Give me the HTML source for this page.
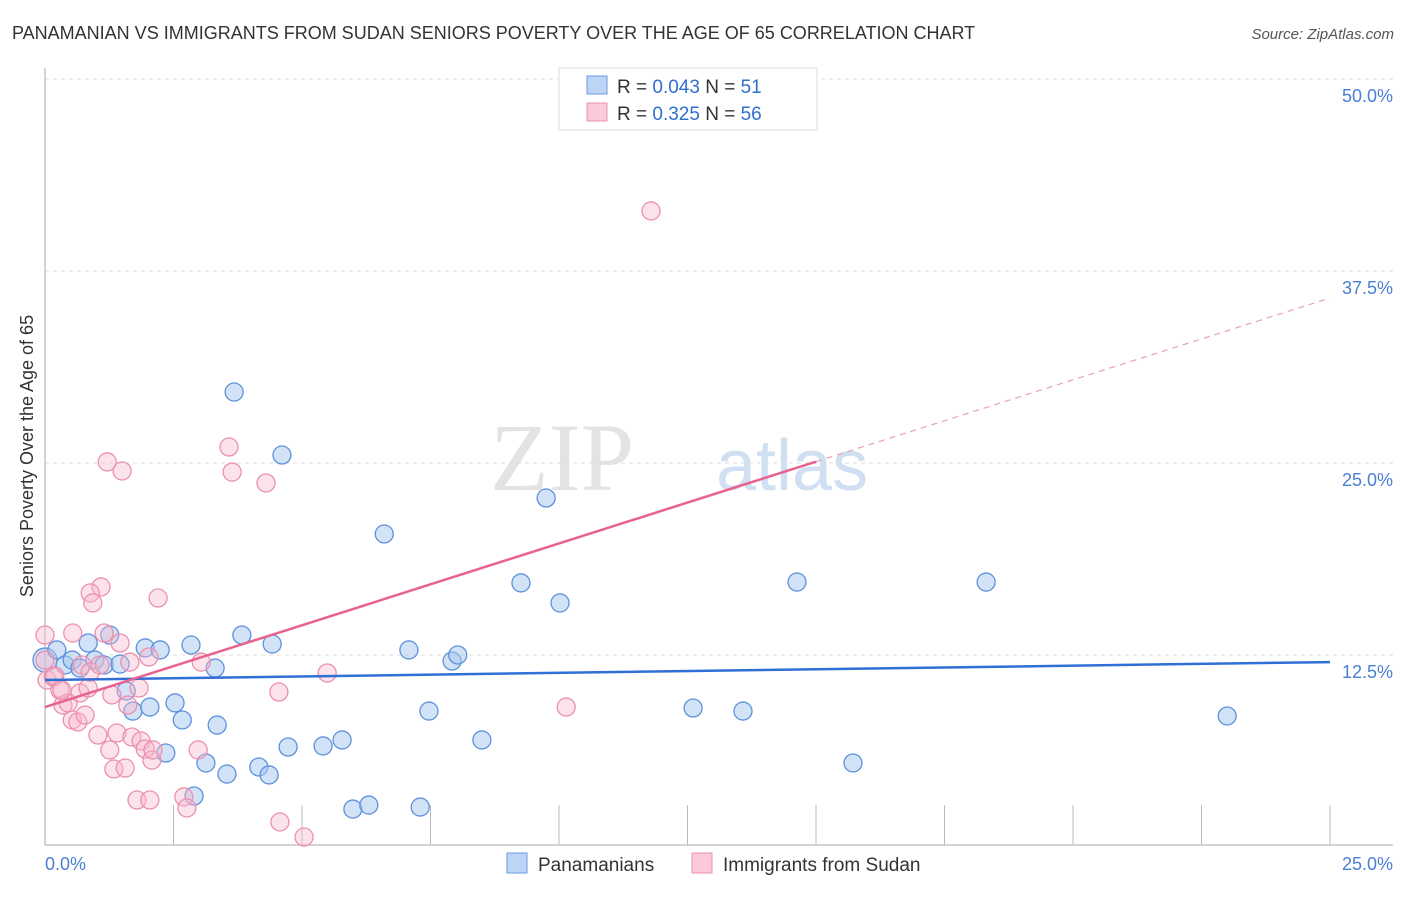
<!DOCTYPE html>
<html><head><meta charset="utf-8"><style>
body{margin:0;background:#fff;font-family:"Liberation Sans",sans-serif;}
</style></head><body>
<svg width="1406" height="892" viewBox="0 0 1406 892" xmlns="http://www.w3.org/2000/svg">
<text x="12" y="39" font-size="18" fill="#333">PANAMANIAN VS IMMIGRANTS FROM SUDAN SENIORS POVERTY OVER THE AGE OF 65 CORRELATION CHART</text>
<text x="1394" y="39" font-size="15" fill="#555" text-anchor="end" font-style="italic">Source: ZipAtlas.com</text>
<text x="634" y="490" font-size="96" fill="#e3e3e3" text-anchor="end" font-family="Liberation Serif">ZIP</text>
<text x="716" y="490" font-size="72" fill="#d0dff2">atlas</text>
<g id="grid"></g>
<g id="axes"></g>
<text transform="translate(33,456) rotate(-90)" font-size="18" fill="#333" text-anchor="middle">Seniors Poverty Over the Age of 65</text>
<text x="45" y="870" font-size="18" fill="#4a7fd4">0.0%</text>
<text x="1393" y="870" font-size="18" fill="#4a7fd4" text-anchor="end">25.0%</text>
<g id="pts"></g>
<g id="lines"></g>
<g>
<rect x="559" y="68" width="258" height="62" fill="#fff" stroke="#ddd"/>
<rect x="587" y="76" width="20" height="18" fill="#bdd4f5" stroke="#6b9be0"/>
<rect x="587" y="103" width="20" height="18" fill="#fbc9d8" stroke="#ec93b0"/>
<text x="617" y="93" font-size="19" fill="#333">R = <tspan fill="#2f6fd0">0.043</tspan>   N = <tspan fill="#2f6fd0">51</tspan></text>
<text x="617" y="120" font-size="19" fill="#333">R = <tspan fill="#2f6fd0"> 0.325</tspan>   N = <tspan fill="#2f6fd0">56</tspan></text>
</g>
<g>
<rect x="507" y="853" width="20" height="20" fill="#bdd4f5" stroke="#6b9be0"/>
<text x="538" y="871" font-size="19" fill="#333">Panamanians</text>
<rect x="692" y="853" width="20" height="20" fill="#fbc9d8" stroke="#ec93b0"/>
<text x="723" y="871" font-size="19" fill="#333">Immigrants from Sudan</text>
</g>
</svg>
<script>
const blueX=[0,.23,.39,.53,.68,.84,.97,1.15,1.26,1.46,1.58,1.71,1.95,2.04,2.24,2.35,2.53,2.67,2.84,2.9,3.13,3.31,3.35,3.54,3.68,3.83,4.16,4.36,4.42,4.61,4.73,5.41,5.78,5.99,6.3,6.6,7.08,7.3,7.47,7.92,8.03,8.5,9.26,9.75,10.02,12.61,13.58,14.63,15.72,18.31,23.0];
const blueY=[12.17,12.83,11.85,12.17,11.65,13.28,12.17,11.85,13.8,11.91,10.16,8.85,12.96,9.11,12.83,6.12,9.38,8.27,13.15,3.32,5.47,11.65,7.94,4.75,29.62,13.8,5.21,4.69,13.22,25.52,6.51,6.58,6.97,2.47,2.73,20.38,12.83,2.6,8.85,12.11,12.5,6.97,17.19,22.72,15.89,9.05,8.85,17.25,5.47,17.25,8.53];
const pinkX=[0,.04,.16,.29,.35,.45,.53,.54,.64,.68,.72,.78,.84,.88,1.03,1.09,1.15,.88,.93,1.21,1.26,1.3,1.34,1.4,1.46,1.5,1.56,1.61,1.65,1.69,1.79,1.83,1.87,1.95,2.02,2.04,2.08,2.1,2.2,2.7,2.76,2.98,3.04,3.58,3.64,4.3,4.55,4.57,5.04,5.49,10.14,11.79,0,.19,.33,1.07];
const pinkY=[13.8,10.87,11.07,10.22,9.24,9.38,8.27,13.93,8.14,10.03,11.85,8.59,10.35,11.39,7.29,16.93,13.93,16.54,15.89,25.07,6.32,9.9,5.08,7.42,13.28,24.48,5.14,9.24,12.04,7.16,3.06,10.35,6.9,6.38,12.37,3.06,5.66,6.32,16.21,3.26,2.54,6.32,12.04,26.04,24.41,23.7,10.09,1.63,0.65,11.33,9.11,41.41,12.17,11.13,10.22,11.85];
const blueFit=[10.87,12.04]; // y at x=0 and x=25
const pinkFit=[9.11,35.74];
const pinkSolidEnd=15;
const yTicks=[12.5,25,37.5,50];
const yTickLabels=["12.5%","25.0%","37.5%","50.0%"];
const xTicks=[2.5,5,7.5,10,12.5,15,17.5,20,22.5,25];
const NS='http://www.w3.org/2000/svg';
const sx=v=>45+v*51.4, sy=v=>847-v*15.36;
function mk(tag,attrs,parent){const e=document.createElementNS(NS,tag);for(const k in attrs)e.setAttribute(k,attrs[k]);parent.appendChild(e);return e;}
const grid=document.getElementById('grid'),axes=document.getElementById('axes'),pts=document.getElementById('pts'),lines=document.getElementById('lines');
yTicks.forEach((t,i)=>{
 const l=mk('line',{x1:45,x2:1393,y1:sy(t),y2:sy(t),stroke:'#ddd','stroke-dasharray':'4,4'},grid);
 
 
 const tx=mk('text',{x:1393,y:sy(t)+23,'font-size':18,fill:'#4a7fd4','text-anchor':'end'},grid);
 tx.textContent=yTickLabels[i];
 
 
});
const ya=mk('line',{x1:45,x2:45,y1:68,y2:845,stroke:'#aaa'},axes);


const xa=mk('line',{x1:45,x2:1393,y1:845,y2:845,stroke:'#aaa'},axes);


xTicks.forEach(t=>{
 const l=mk('line',{x1:sx(t),x2:sx(t),y1:805,y2:845,stroke:'#bbb'},axes);
 
 
});
blueX.forEach((x,i)=>{
 const c=mk('circle',{cx:sx(x),cy:sy(blueY[i]),r:i===0?12:9,fill:'rgba(165,198,240,0.5)',stroke:'#5d92dc','stroke-width':1.3},pts);
 
 
});
pinkX.forEach((x,i)=>{
 const c=mk('circle',{cx:sx(x),cy:sy(pinkY[i]),r:9,fill:'rgba(248,185,205,0.4)',stroke:'#eb90ae','stroke-width':1.3},pts);
 
 
});
const bl=mk('line',{x1:sx(0),y1:sy(blueFit[0]),x2:sx(25),y2:sy(blueFit[1]),stroke:'#2f6fd6','stroke-width':2.5},lines);


const pe=pinkFit[0]+(pinkFit[1]-pinkFit[0])*pinkSolidEnd/25;
const pl=mk('line',{x1:sx(0),y1:sy(pinkFit[0]),x2:sx(pinkSolidEnd),y2:sy(pe),stroke:'#e8628f','stroke-width':2.5},lines);


const pd=mk('line',{x1:sx(pinkSolidEnd),y1:sy(pe),x2:sx(25),y2:sy(pinkFit[1]),stroke:'#e8a0b8','stroke-width':1.2,'stroke-dasharray':'6,5'},lines);


</script>
</body></html>
